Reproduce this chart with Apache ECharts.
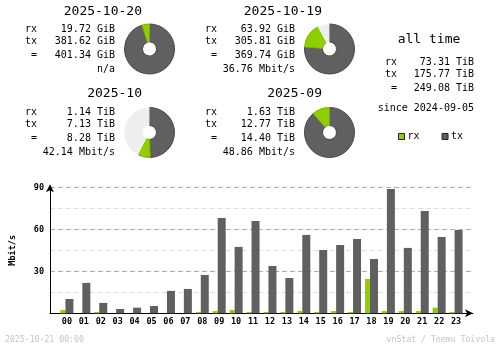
<!DOCTYPE html>
<html>
<head>
<meta charset="utf-8">
<script src="https://cdn.jsdelivr.net/npm/echarts@6/dist/echarts.min.js"></script>
<style>html,body{margin:0;padding:0;background:#fff;}#c{width:500px;height:348px;}</style>
</head>
<body>
<div id="c"></div>
<script>
// ---- data ----
const dayNames = ['2025-10-20', '2025-10-19'];
const dayRx = [19.72, 63.92];
const dayTx = [381.62, 305.81];
const dayTotal = [401.34, 369.74];
const dayRate = ['n/a', '36.76 Mbit/s'];

const monthNames = ['2025-10', '2025-09'];
const monthRx = [1.14, 1.63];
const monthTx = [7.13, 12.77];
const monthTotal = [8.28, 14.40];
const monthRate = ['42.14 Mbit/s', '48.86 Mbit/s'];

const allRx = 73.31;
const allTx = 175.77;
const allTotal = 249.08;
const allSince = '2024-09-05';

const hours = ['00','01','02','03','04','05','06','07','08','09','10','11','12','13','14','15','16','17','18','19','20','21','22','23'];
const hourRx = [2.4, 0, 0.9, 0, 0, 0, 0, 0, 0.9, 1.6, 2.4, 0.9, 0.9, 0.9, 1.6, 0.9, 1.6, 0.9, 24.5, 1.6, 1.6, 1.6, 4.0, 0.9];
const hourTx = [10.2, 21.7, 7.4, 3.1, 4.0, 5.2, 16.0, 17.4, 27.4, 68.1, 47.4, 66.0, 33.8, 25.2, 56.0, 45.2, 48.8, 53.1, 38.8, 88.8, 46.7, 73.1, 54.5, 59.5];
const yTicks = [30, 60, 90];

// ---- style ----
const RX = '#8fcf00', TX = '#606060', RXB = '#78ad00', TXB = '#474747', EMPTY = '#eeeeee';
const MONO = '"DejaVu Sans Mono", "Liberation Mono", monospace';
const F = 10 + 'px ' + MONO;
const FT = 13 + 'px ' + MONO;

const graphics = [];
function txt(text, x, y, font, align, fill) {
  graphics.push({type: 'text', silent: true, style: {text: text, x: x, y: y, font: font, fill: fill || '#000', align: align || 'left', verticalAlign: 'middle', textAlign: align || 'left', textVerticalAlign: 'middle'}});
}
function block(lx, rx, titleRight, titleY, rows, title, vRx, vTx, vTot, unit, extra) {
  txt(title, titleRight, titleY, FT, 'right');
  txt('rx', lx, rows[0], F);
  txt('tx', lx, rows[1], F);
  txt('=', lx + 6, rows[2], F);
  txt(vRx.toFixed(2) + ' ' + unit, rx, rows[0], F, 'right');
  txt(vTx.toFixed(2) + ' ' + unit, rx, rows[1], F, 'right');
  txt(vTot.toFixed(2) + ' ' + unit, rx, rows[2], F, 'right');
  if (extra) txt(extra, rx, rows[3], F, 'right');
}
block(25, 115, 142, 11.5, [29.5, 41.5, 55, 69], dayNames[0], dayRx[0], dayTx[0], dayTotal[0], 'GiB', dayRate[0]);
block(205, 295, 322, 11.5, [29.5, 41.5, 55, 69], dayNames[1], dayRx[1], dayTx[1], dayTotal[1], 'GiB', dayRate[1]);
block(25, 115, 142, 94, [112.5, 124.5, 138, 152], monthNames[0], monthRx[0], monthTx[0], monthTotal[0], 'TiB', monthRate[0]);
block(205, 295, 322, 94, [112.5, 124.5, 138, 152], monthNames[1], monthRx[1], monthTx[1], monthTotal[1], 'TiB', monthRate[1]);
// all time
txt('all time', 429, 39.5, FT, 'center');
txt('rx', 385, 62.5, F);
txt('tx', 385, 74.5, F);
txt('=', 391, 88.5, F);
txt(allRx.toFixed(2) + ' TiB', 474, 62.5, F, 'right');
txt(allTx.toFixed(2) + ' TiB', 474, 74.5, F, 'right');
txt(allTotal.toFixed(2) + ' TiB', 474, 88.5, F, 'right');
txt('since ' + allSince, 474, 108.5, F, 'right');
// footer
const FF = '8.2px ' + MONO;
txt('2025-10-21 00:00', 5, 340, FF, 'left', '#c4c4c4');
txt('vnStat / Teemu Toivola', 495, 340, FF, 'right', '#c4c4c4');

function pie(center, rx, tx, scaleMax) {
  const rest = Math.max(0, scaleMax - rx - tx);
  return {
    type: 'pie', silent: true, animation: false,
    center: center, radius: [7, 25], startAngle: 90, clockwise: true,
    label: {show: false}, labelLine: {show: false},
    emphasis: {disabled: true},
    data: [
      {name: 'p-tx', value: tx, itemStyle: {color: TX, borderColor: TXB, borderWidth: 1}},
      {name: 'p-rx', value: rx, itemStyle: {color: RX, borderColor: RXB, borderWidth: 1}},
      {name: 'p-rest', value: rest, itemStyle: {color: EMPTY, borderWidth: 0}}
    ]
  };
}
const dayMax = Math.max(dayTotal[0], dayTotal[1]);
const monthMax = Math.max(monthTotal[0], monthTotal[1]);

const cats = [''].concat(hours, ['']);
const padRx = ['-'].concat(hourRx, ['-']);
const padTx = ['-'].concat(hourTx, ['-']);

const chart = echarts.init(document.getElementById('c'), null, {renderer: 'canvas'});
chart.setOption({
  animation: false,
  backgroundColor: '#fff',
  legend: {
    data: ['rx', 'tx'], left: 398, top: 131.5, padding: 0, itemWidth: 6, itemHeight: 6, itemGap: 22,
    icon: 'rect', selectedMode: false,
    itemStyle: {borderColor: '#222', borderWidth: 1},
    textStyle: {fontFamily: MONO, fontSize: 10, color: '#000', padding: [0, 0, 0, -2]}
  },
  grid: {left: 48, right: 27, top: 187.3, bottom: 34.7, containLabel: false},
  xAxis: {
    type: 'category', data: cats, boundaryGap: false,
    axisLine: {show: true, lineStyle: {color: '#000', width: 1}, symbol: ['none', 'arrow'], symbolSize: [6, 8]},
    axisTick: {show: false},
    axisLabel: {interval: 0, fontFamily: MONO, fontSize: 8.5, fontWeight: 'bold', color: '#000', margin: 4}
  },
  yAxis: {
    type: 'value', min: 0, max: 90, interval: 15,
    name: 'Mbit/s', nameLocation: 'middle', nameRotate: 90, nameGap: 33,
    nameTextStyle: {fontFamily: MONO, fontSize: 8.5, fontWeight: 'bold', color: '#000'},
    axisLine: {show: true, lineStyle: {color: '#000', width: 1}, symbol: ['none', 'arrow'], symbolSize: [6, 8], symbolOffset: [0, 3]},
    axisTick: {show: false},
    axisLabel: {
      fontFamily: MONO, fontSize: 8.5, fontWeight: 'bold', color: '#000', margin: 6,
      formatter: function (v) { return yTicks.indexOf(v) >= 0 ? String(v) : ''; }
    },
    splitLine: {show: true, lineStyle: {color: ['#b0b0b0', '#e0e0e0'], type: [5, 3], width: 1}}
  },
  series: [
    {name: 'rx', type: 'bar', data: padRx, barWidth: 5, barGap: '0%', itemStyle: {color: RX}, silent: true},
    {name: 'tx', type: 'bar', data: padTx, barWidth: 8, barGap: '0%', itemStyle: {color: TX}, silent: true},
    pie([149.5, 49], dayRx[0], dayTx[0], dayMax),
    pie([329.5, 49], dayRx[1], dayTx[1], dayMax),
    pie([149.5, 132.5], monthRx[0], monthTx[0], monthMax),
    pie([329.5, 132.5], monthRx[1], monthTx[1], monthMax)
  ],
  graphic: graphics
});
</script>
</body>
</html>
